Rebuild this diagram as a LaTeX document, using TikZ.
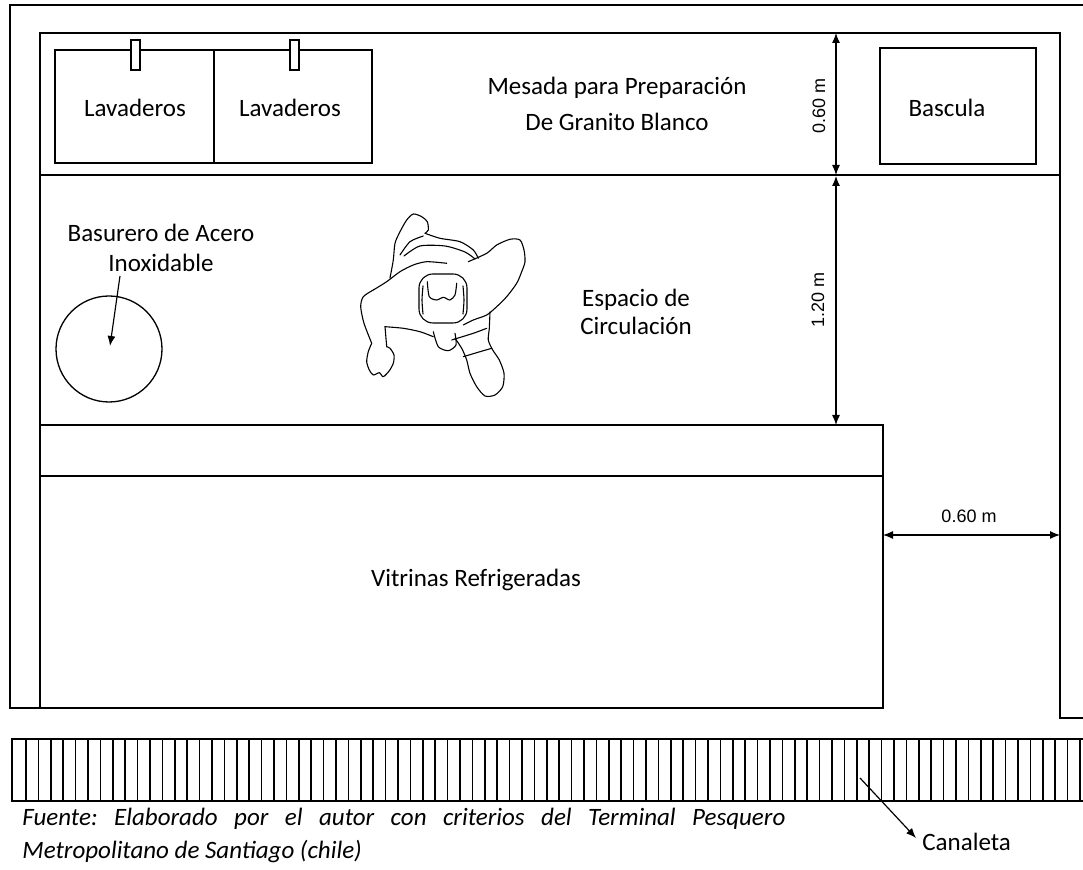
\documentclass[tikz,border=0pt]{standalone}
\usepackage{fontspec}
\setmainfont{Carlito}
\newfontfamily\dimfont{Liberation Sans}
\usetikzlibrary{arrows.meta}
\frenchspacing

\begin{document}
\begin{tikzpicture}[x=0.5pt,y=-0.5pt,
  wall/.style={line width=0.75pt},
  thinline/.style={line width=0.65pt},
  lbl/.style={font=\fontsize{12.5}{15}\selectfont, inner sep=0pt, align=center},
  dimlbl/.style={font=\dimfont\fontsize{9}{10}\selectfont, inner sep=0pt},
  dimarrow/.style={line width=0.6pt, {Latex[length=5pt,width=4pt]}-{Latex[length=5pt,width=4pt]}},
  pointer/.style={line width=0.6pt, -{Latex[length=5pt,width=4pt]}},
  body/.style={line width=0.55pt, line join=round, line cap=round, smooth, tension=0.45}
]
\useasboundingbox (0,0) rectangle (1083,870);

% outer wall
\draw[wall] (1083,5) -- (10,5) -- (10,708) -- (40,708);
% inner frame of the stall
\draw[wall] (40,708) -- (40,33) -- (1060,33) -- (1060,718) -- (1083,718);
\draw[wall] (40,175) -- (1060,175);

% sinks
\draw[thinline] (55,50) rectangle (372,163);
\draw[thinline] (214,50) -- (214,163);
\draw[thinline,fill=white] (131,40) rectangle (140,70);
\draw[thinline,fill=white] (290,40) rectangle (299,70);
\node[lbl] (lav1) at (135,108) {Lavaderos};
\node[lbl] (lav2) at (290,108) {Lavaderos};
\node[lbl,font=\fontsize{12.5}{18}\selectfont] (mesada) at (617,104) {Mesada para Preparación\\De Granito Blanco};

% scale
\draw[thinline] (880,48) rectangle (1036,164);
\node[lbl] (bascula) at (947,108) {Bascula};

% dimensions
\coordinate (d1a) at (836,33);
\coordinate (d1b) at (836,175);
\coordinate (d2a) at (836,176);
\coordinate (d2b) at (836,425);
\draw[dimarrow] (d1a) -- (d1b);
\draw[dimarrow] (d2a) -- (d2b);
\node[dimlbl,rotate=90] (dim1) at (819,106) {0.60 m};
\node[dimlbl,rotate=90] (dim2) at (818,300) {1.20 m};
\coordinate (d3a) at (883,535);
\coordinate (d3b) at (1060,535);
\draw[dimarrow] (d3a) -- (d3b);
\node[dimlbl] (dim3) at (969,516) {0.60 m};

% refrigerated display cases
\draw[wall] (40,425) -- (883,425) -- (883,708) -- (40,708);
\draw[wall] (40,476) -- (883,476);
\node[lbl] (vitrinas) at (476,580) {Vitrinas Refrigeradas};

% stainless steel bin
\draw[thinline] (109,349) circle[radius=53];
\coordinate (bin) at (110,346);
\node[lbl,font=\fontsize{12.5}{15}\selectfont] (basurero) at (161,248) {Basurero de Acero\\Inoxidable};
\draw[pointer] (120,276) -- (bin);

% circulation space
\node[lbl,font=\fontsize{12.5}{14}\selectfont] (espacio) at (636,312) {Espacio de\\Circulación};

% person seen from above
\draw[body] plot coordinates {(390,278) (393.3,260) (395,243.3) (400,231.7) (406.7,220) (413.3,214) (421.7,216.7) (427.3,221.7) (428.3,230) (425,233.3)};
\draw[body] plot coordinates {(425,233.3) (440,238.3) (460,241.7) (473.3,250) (478.3,258.3)};
\draw[body] plot coordinates {(400,255) (410,241.7) (423.3,236)};
\draw[body] plot coordinates {(404,256) (420,246) (445,246) (465,252) (475,259)};
\draw[body] plot coordinates {(468.3,261.7) (486.7,253.3) (496.7,245) (510,239.3) (520,240) (524,250) (525,261.7) (521.7,271.7) (516.7,283.3) (506.7,296.7) (496.7,306.7) (486.7,315) (473.3,320) (463.3,325)};
\draw[body] plot coordinates {(373.3,290) (386.7,281.7) (400,271.7) (413.3,265) (426.7,261.7) (446.7,263.3)};
\draw[body] plot coordinates {(373.3,290) (363.3,296.7) (360.7,306.7) (364,323.3) (371.7,343.3)};
\draw[body] plot coordinates {(371.7,343.3) (368.3,351.7) (366.7,361.7) (369.3,370) (373.3,375) (379.3,372.7) (383.3,376.7) (389.3,370.7) (393.3,363.3) (394,355) (390,348.3) (386.7,346.7)};
\draw[body] (386.7,346.7) -- (385,326.7);
\draw[body] plot coordinates {(385,326.7) (403.3,328.3) (420,331.7) (433.3,336.7)};
\draw[body] plot coordinates {(433.3,331.7) (438.3,346.7) (448.3,350.7) (456,345) (455,333.3)};
\draw[body] plot coordinates {(455,338.3) (461.7,348.3) (466.7,360) (470,373.3) (476.7,386.7) (485,396) (495,395) (502.7,386.7) (504,373.3) (499.3,360) (492.7,350) (488.3,340) (489.3,328.3) (490,312)};
\draw[body] plot coordinates {(463.3,356.7) (480,351.7) (491.7,348.3)};
\draw[body] plot coordinates {(451.7,340) (473.3,333.3) (486.7,328.3)};
\draw[line width=0.55pt, rounded corners=7pt] (419,274) rectangle (467,323);
\draw[body] plot coordinates {(427.3,281.7) (429.3,296.7) (436.7,300) (443.3,297.3) (450,300) (455,295) (456.7,283.3)};
\draw[body] plot coordinates {(423,286) (422,300) (423,314)};
\draw[body] plot coordinates {(463,286) (464,300) (463,314)};

% drainage channel
\draw[wall] (1090,739) -- (12,739) -- (12,801) -- (1090,801);
\foreach \k in {0,...,85} {
  \draw[wall] ({26+12.4*\k},739) -- ({26+12.4*\k},801);
}
\coordinate (canal) at (860,778);
\node[lbl,anchor=west] (canaleta) at (922,842) {Canaleta};
\draw[pointer] (canal) -- (916,838);

% source note
\node[anchor=west, inner sep=0pt, font=\itshape\fontsize{12.5}{15}\selectfont] (fuente1) at (22,819)
  {\makebox[381.5pt][s]{Fuente: Elaborado por el autor con criterios del Terminal Pesquero}};
\node[anchor=west, inner sep=0pt, font=\itshape\fontsize{12.5}{15}\selectfont] (fuente2) at (22,852)
  {Metropolitano de Santiago (chile)};
\end{tikzpicture}
\end{document}
